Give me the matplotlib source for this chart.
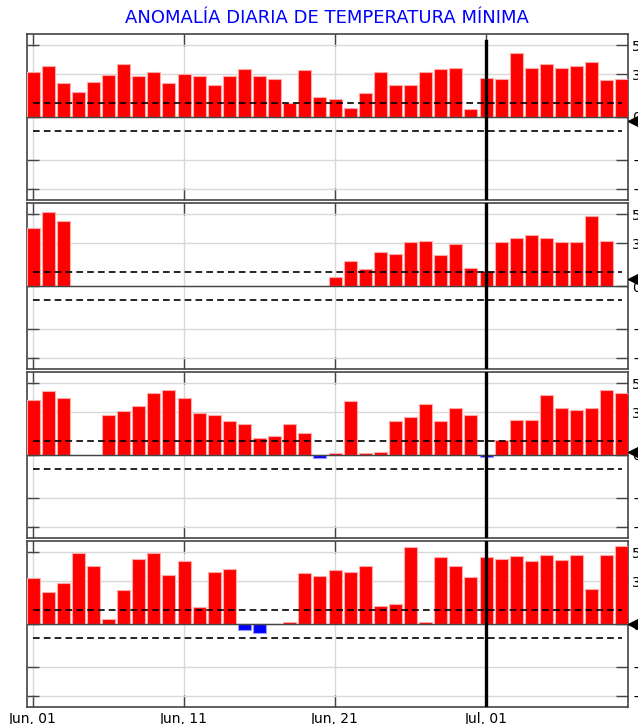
import numpy as np
import matplotlib
matplotlib.use("Agg")
import matplotlib.pyplot as plt

# daily minimum temperature anomaly, Jun 01 .. Jul 10 (40 days), four stations
days = np.arange(40)
tick_days = [0, 10, 20, 30]
tick_labels = ["Jun, 01", "Jun, 11", "Jun, 21", "Jul, 01"]
today = 30

nan = np.nan
anom1 = [3.12, 3.56, 2.36, 1.76, 2.45, 2.94, 3.68, 2.85, 3.15, 2.36,
         3.03, 2.85, 2.22, 2.85, 3.36, 2.85, 2.64, 0.95, 3.26, 1.41,
         1.25, 0.63, 1.67, 3.15, 2.22, 2.22, 3.15, 3.36, 3.45, 0.56,
         2.75, 2.64, 4.47, 3.45, 3.68, 3.45, 3.56, 3.84, 2.57, 2.64]
anom2 = [4.05, 5.14, 4.56, nan, nan, nan, nan, nan, nan, nan,
         nan, nan, nan, nan, nan, nan, nan, nan, nan, nan,
         0.65, 1.74, 1.16, 2.36, 2.25, 3.06, 3.17, 2.18, 2.96, 1.25,
         1.06, 3.06, 3.33, 3.56, 3.33, 3.06, 3.06, 4.86, 3.17, nan]
anom3 = [3.87, 4.44, 3.96, nan, nan, 2.78, 3.06, 3.43, 4.35, 4.56,
         3.96, 2.96, 2.78, 2.36, 2.15, 1.16, 1.34, 2.15, 1.55, -0.18,
         0.14, 3.75, 0.14, 0.23, 2.36, 2.66, 3.56, 2.36, 3.26, 2.78,
         -0.15, 1.06, 2.48, 2.48, 4.17, 3.26, 3.15, 3.26, 4.56, 4.35]
anom4 = [3.24, 2.27, 2.85, 4.98, 4.05, 0.35, 2.36, 4.54, 4.98, 3.43,
         4.38, 1.16, 3.66, 3.87, -0.42, -0.63, 0.03, 0.16, 3.56, 3.36,
         3.75, 3.66, 4.05, 1.25, 1.37, 5.35, 0.16, 4.65, 4.05, 3.26,
         4.65, 4.54, 4.75, 4.38, 4.84, 4.47, 4.84, 2.45, 4.84, 5.44]
series = [anom1, anom2, anom3, anom4]
current = [-0.3, 0.5, 0.2, 0.0]
band = 1.0
yticks = [-5, -3, 0, 3, 5]

fig = plt.figure(figsize=(6.38, 7.24), dpi=100)
fig.text(0.513, 0.975, "ANOMALÍA DIARIA DE TEMPERATURA MÍNIMA", color="blue",
         fontsize=13, ha="center", va="center")

W, H = 638, 724
tops = [34, 203, 372, 541]
ph = 166
for i, (vals, cur) in enumerate(zip(series, current)):
    ax = fig.add_axes([27 / W, 1 - (tops[i] + ph) / H, 601 / W, ph / H])
    vals = np.array(vals, dtype=float)
    colors = ["red" if v >= 0 else "blue" for v in np.nan_to_num(vals)]
    edges = ["#ffaaaa" if v >= 0 else "#9999ff" for v in np.nan_to_num(vals)]
    ax.bar(days, vals, width=0.86, color=colors, edgecolor=edges, linewidth=0.8, zorder=3)
    ax.axhline(0, color="#444444", lw=1, zorder=4)
    ax.plot([days[0], days[-1]], [band, band], "k--", lw=1.2, dashes=(4, 2.5), zorder=5)
    ax.plot([days[0], days[-1]], [-band, -band], "k--", lw=1.2, dashes=(4, 2.5), zorder=5)
    ymax = 0.96 if i == 0 else 1
    ax.axvline(today, ymax=ymax, color="black", lw=2.4, zorder=6)
    ax.plot(40.0, cur, marker="<", ms=13, color="black", clip_on=False, zorder=7)

    ax.set_xlim(-0.4, 39.4)
    ax.set_ylim(-5.8, 5.8)
    ax.set_xticks(tick_days)
    ax.set_yticks(yticks)
    ax.grid(True, color="#d8d8d8", lw=1, zorder=0)
    ax.tick_params(axis="both", direction="in", length=8.5, width=1, color="#444444",
                   top=True, right=True, labelsize=10)
    ax.tick_params(axis="y", labelleft=False, labelright=True, pad=3)
    if i == 3:
        ax.set_xticklabels(tick_labels)
    else:
        ax.tick_params(axis="x", labelbottom=False)
    for s in ax.spines.values():
        s.set_color("#444444")
        s.set_linewidth(1.2)

fig.savefig("out.png", dpi=100)
